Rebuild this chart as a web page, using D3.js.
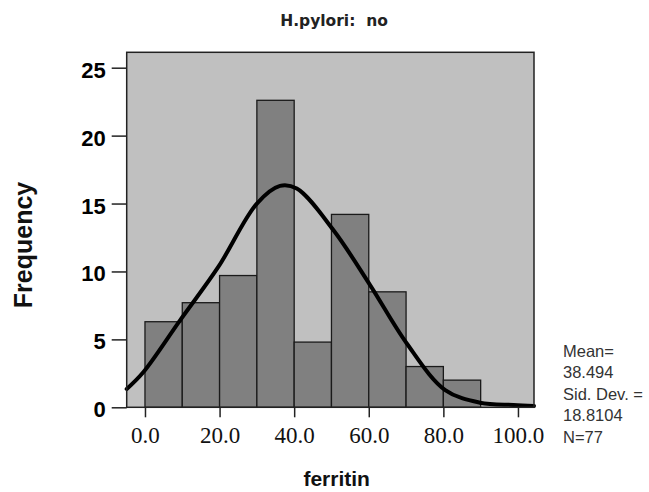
<!DOCTYPE html>
<html>
<head>
<meta charset="utf-8">
<script src="https://cdn.jsdelivr.net/npm/d3@7"></script>
<style>
	body { margin: 0; background: #fff; }
	svg { display: block; }
</style>
</head>
<body>
<svg id="chart" width="649" height="492"></svg>
<script>
( function() {

	"use strict";

	//histogram bins (ferritin, lower edge) and their frequencies
	var binStarts = [ 0, 10, 20, 30, 40, 50, 60, 70, 80 ],
		binWidth = 10,
		frequencies = [ 6.3, 7.7, 9.7, 22.6, 4.8, 14.2, 8.5, 3.0, 2.0 ];

	//normal curve, points
	var curveX = [ -4.9, -0.4, 9.4, 19.7, 30.0, 36.2, 40.7, 50.5, 60.35, 70.2, 80.5, 89.8, 98.8, 104.3 ],
		curveY = [ 1.35, 2.6, 6.4, 10.35, 15.0, 16.3, 16.1, 13.05, 9.0, 4.7, 1.27, 0.34, 0.17, 0.1 ];

	var xTicks = [ 0, 20, 40, 60, 80, 100 ],
		yTicks = [ 0, 5, 10, 15, 20, 25 ],
		title = "H.pylori:  no",
		xTitle = "ferritin",
		yTitle = "Frequency",
		stats = [ "Mean=", "38.494", "Sid. Dev. =", "18.8104", "N=77" ];

	var plotLeft = 126.7,
		plotRight = 534,
		plotTop = 52.3,
		plotBottom = 407.3,
		sansBold = "'Liberation Sans', Arial, sans-serif";

	var svg = d3.select( "#chart" );

	var x = d3.scaleLinear().domain( [ -4.9, 104.3 ] ).range( [ plotLeft, plotRight ] ),
		y = d3.scaleLinear().domain( [ 0, 25 ] ).range( [ plotBottom, 67.7 ] );

	//plot background
	svg.append( "rect" )
		.attr( "x", plotLeft )
		.attr( "y", plotTop )
		.attr( "width", plotRight - plotLeft )
		.attr( "height", plotBottom - plotTop )
		.style( "fill", "#c0c0c0" );

	//bars
	svg.append( "g" )
		.selectAll( "rect" )
		.data( frequencies )
		.enter()
		.append( "rect" )
			.attr( "x", function( d, i ) { return x( binStarts[ i ] ); } )
			.attr( "y", function( d ) { return y( d ); } )
			.attr( "width", function( d, i ) { return x( binStarts[ i ] + binWidth ) - x( binStarts[ i ] ); } )
			.attr( "height", function( d ) { return plotBottom - y( d ); } )
			.style( "fill", "#808080" )
			.style( "stroke", "#1a1a1a" )
			.style( "stroke-width", 1.3 );

	//normal curve
	var line = d3.line()
		.x( function( d, i ) { return x( curveX[ i ] ); } )
		.y( function( d ) { return y( d ); } )
		.curve( d3.curveCatmullRom.alpha( 0.5 ) );

	svg.append( "path" )
		.datum( curveY )
		.attr( "d", line )
		.style( "fill", "none" )
		.style( "stroke", "#000" )
		.style( "stroke-width", 4 )
		.style( "stroke-linejoin", "round" )
		.style( "stroke-linecap", "round" );

	//frame
	svg.append( "rect" )
		.attr( "x", plotLeft )
		.attr( "y", plotTop )
		.attr( "width", plotRight - plotLeft )
		.attr( "height", plotBottom - plotTop )
		.style( "fill", "none" )
		.style( "stroke", "#222" )
		.style( "stroke-width", 1.5 );

	//y axis
	var yAxis = svg.append( "g" )
		.attr( "transform", "translate(" + plotLeft + ",0)" )
		.call( d3.axisLeft( y ).tickValues( yTicks ).tickSize( 15 ).tickPadding( 6 ) );
	yAxis.select( ".domain" ).remove();
	yAxis.selectAll( "line" ).style( "stroke", "#222" ).style( "stroke-width", 1.5 );
	yAxis.selectAll( "text" )
		.attr( "dy", "0.43em" )
		.style( "font-family", sansBold )
		.style( "font-weight", "bold" )
		.style( "font-size", "22px" )
		.style( "fill", "#000" );

	//x axis
	var xAxis = svg.append( "g" )
		.attr( "transform", "translate(0," + plotBottom + ")" )
		.call( d3.axisBottom( x ).tickValues( xTicks ).tickFormat( d3.format( ".1f" ) ).tickSize( 10 ).tickPadding( 2 ) );
	xAxis.select( ".domain" ).remove();
	xAxis.selectAll( "line" ).style( "stroke", "#222" ).style( "stroke-width", 1.5 );
	xAxis.selectAll( "text" )
		.attr( "dy", "1.05em" )
		.style( "font-family", "'Liberation Serif', 'Times New Roman', serif" )
		.style( "font-size", "23px" )
		.style( "fill", "#111" );

	//titles
	svg.append( "text" )
		.attr( "x", 334 )
		.attr( "y", 26 )
		.attr( "text-anchor", "middle" )
		.style( "white-space", "pre" )
		.style( "font-family", "'DejaVu Sans', Verdana, sans-serif" )
		.style( "font-weight", "bold" )
		.style( "font-size", "15.5px" )
		.style( "fill", "#222" )
		.text( title );

	svg.append( "text" )
		.attr( "x", 336.7 )
		.attr( "y", 486 )
		.attr( "text-anchor", "middle" )
		.style( "font-family", sansBold )
		.style( "font-weight", "bold" )
		.style( "font-size", "21px" )
		.style( "fill", "#111" )
		.text( xTitle );

	svg.append( "text" )
		.attr( "transform", "translate(32,245) rotate(-90)" )
		.attr( "text-anchor", "middle" )
		.style( "font-family", sansBold )
		.style( "font-weight", "bold" )
		.style( "font-size", "25px" )
		.style( "fill", "#111" )
		.text( yTitle );

	//statistics box
	svg.append( "g" )
		.selectAll( "text" )
		.data( stats )
		.enter()
		.append( "text" )
			.attr( "x", 563 )
			.attr( "y", function( d, i ) { return 356.5 + i * 21.5; } )
			.style( "font-family", "'Liberation Sans', Arial, sans-serif" )
			.style( "font-size", "16.5px" )
			.style( "fill", "#333" )
			.text( function( d ) { return d; } );

})();
</script>
</body>
</html>
